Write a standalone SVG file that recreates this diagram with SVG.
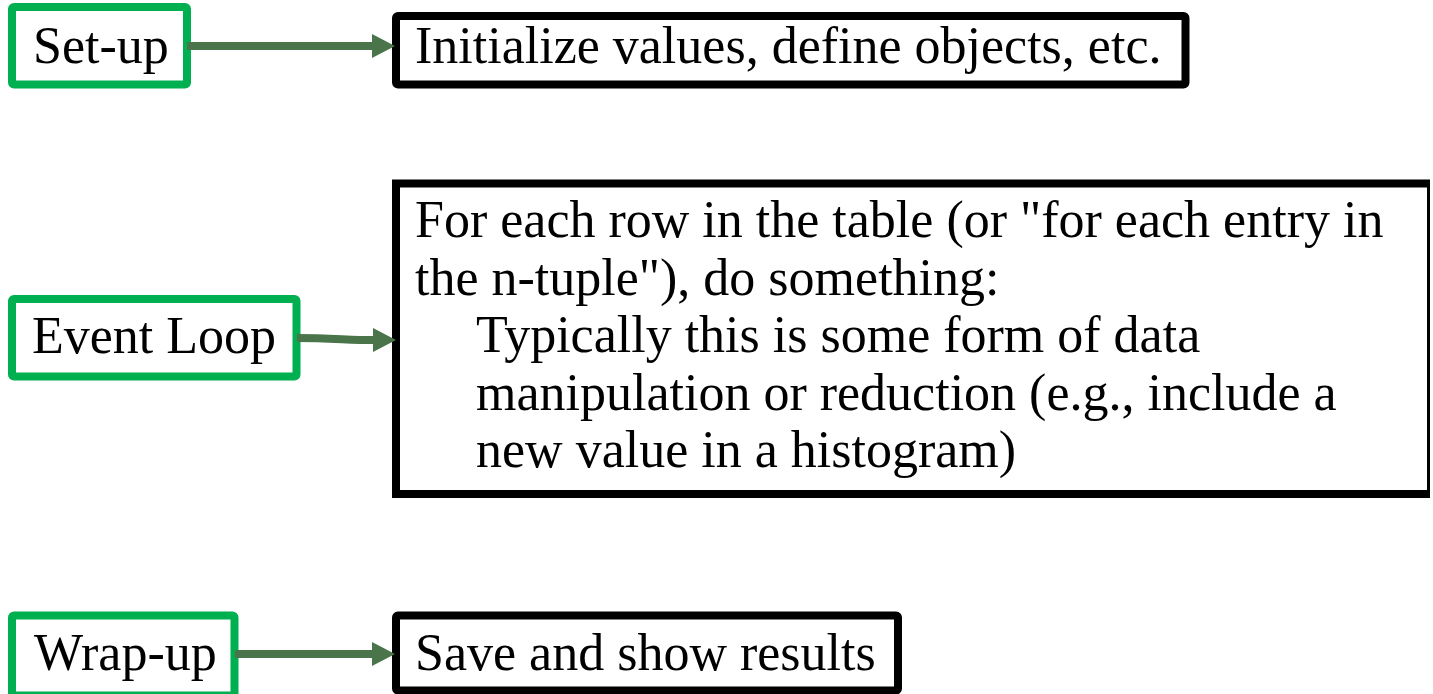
<svg xmlns="http://www.w3.org/2000/svg" width="1433" height="694" viewBox="0 0 1433 694">
<defs>
<style>
.g{fill:#fff;stroke:#00b050;stroke-width:8}
.k{fill:#fff;stroke:#000;stroke-width:8}
.t{font-family:"Liberation Serif","Times New Roman",serif;font-size:52px;fill:#000}
.c{fill:none;stroke:#4a744a;stroke-width:8}
</style>
<marker id="ah" viewBox="0 0 23 24" markerWidth="23" markerHeight="24" refX="0" refY="12" markerUnits="userSpaceOnUse" orient="auto">
<path d="M0,0 L23,12 L0,24 z" fill="#4a744a"/>
</marker>
</defs>
<rect width="1433" height="694" fill="#fff"/>
<g id="setup">
<rect class="g" x="12" y="7" width="175" height="77.5" rx="2"/>
<text class="t" x="33" y="63">Set-up</text>
</g>
<g id="init">
<rect class="k" x="396" y="16" width="789.5" height="68.5" rx="2"/>
<text class="t" x="415" y="62.5">Initialize values, define objects, etc.</text>
</g>
<g id="eventloop">
<rect class="g" x="12" y="299" width="284.5" height="77.5" rx="2"/>
<text class="t" x="32" y="353">Event Loop</text>
</g>
<g id="loopbody">
<path d="M1430,183.5 H396 V494 H1430" fill="#fff" stroke="#000" stroke-width="8"/>
<line x1="1428.5" y1="180" x2="1428.5" y2="497" stroke="#000" stroke-width="3"/>
<text class="t" x="415" y="237">For each row in the table (or "for each entry in</text>
<text class="t" x="415" y="294.5">the n-tuple"), do something:</text>
<text class="t" x="476" y="352">Typically this is some form of data</text>
<text class="t" x="476" y="409.5">manipulation or reduction (e.g., include a</text>
<text class="t" x="476" y="467">new value in a histogram)</text>
</g>
<g id="wrapup">
<rect class="g" x="12" y="615.5" width="222.5" height="80" rx="2"/>
<text class="t" x="34" y="670">Wrap-up</text>
</g>
<g id="save">
<rect class="k" x="396" y="615.5" width="502" height="75" rx="2"/>
<text class="t" x="415" y="670">Save and show results</text>
</g>
<g id="connectors">
<line class="c" x1="187" y1="46" x2="372" y2="46" marker-end="url(#ah)"/>
<path class="c" d="M297,338 C330,338 350,340 373,340" marker-end="url(#ah)"/>
<line class="c" x1="235" y1="654" x2="372" y2="654" marker-end="url(#ah)"/>
</g>
</svg>
